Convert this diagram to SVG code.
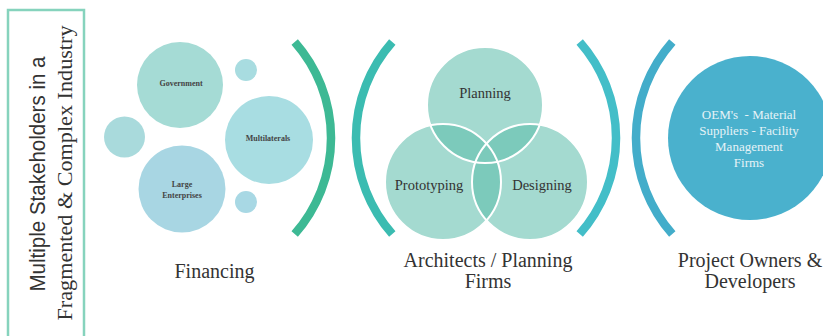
<svg xmlns="http://www.w3.org/2000/svg" width="823" height="336" viewBox="0 0 823 336">
<style>
.serif{font-family:"Liberation Serif","DejaVu Serif",serif;fill:#333}
.sans{font-family:"Liberation Sans","DejaVu Sans",sans-serif;fill:#333}
.lbl{font-size:20px;text-anchor:middle}
.small{font-size:8px;text-anchor:middle;font-weight:bold;fill:#444}
.venn{font-size:14.5px;text-anchor:middle}
.br{fill:none;stroke-width:8.5}
.vc{stroke:#fff;stroke-width:2;fill:none}
</style>
<defs>
<clipPath id="cPlan"><circle cx="485" cy="105" r="58"/></clipPath>
<clipPath id="cProt"><circle cx="443" cy="182" r="58"/></clipPath>
<clipPath id="cDes"><circle cx="530" cy="182" r="58"/></clipPath>
</defs>
<rect width="823" height="336" fill="#fff"/>

<g id="title">
<rect x="8" y="10" width="76" height="340" fill="none" stroke="#86d3bd" stroke-width="2.5"/>
<text class="sans" font-size="22" text-anchor="middle" transform="translate(45,174) rotate(-90)" textLength="235" lengthAdjust="spacingAndGlyphs">Multiple Stakeholders in a</text>
<text class="serif" font-size="22" text-anchor="middle" transform="translate(72,173) rotate(-90)" textLength="295" lengthAdjust="spacingAndGlyphs">Fragmented &amp; Complex Industry</text>
</g>

<g id="financing">
<circle cx="180" cy="85" r="43" fill="#a5dbd5"/>
<circle cx="246" cy="70" r="11" fill="#a8dce0"/>
<circle cx="124.5" cy="137" r="20.5" fill="#a9dadc"/>
<circle cx="269" cy="140" r="44" fill="#a8dde2"/>
<circle cx="182" cy="189" r="43.5" fill="#a8d6e3"/>
<circle cx="246" cy="202" r="11" fill="#a8d8e4"/>
<text class="serif small" x="181" y="86">Government</text>
<text class="serif small" x="268" y="141">Multilaterals</text>
<text class="serif small" x="182" y="187">Large</text>
<text class="serif small" x="182" y="198">Enterprises</text>
<text class="serif lbl" x="214.5" y="278">Financing</text>
</g>

<g id="architects">
<circle cx="485" cy="105" r="58" fill="#a4dad0"/>
<circle cx="443" cy="182" r="58" fill="#a4dad0"/>
<circle cx="530" cy="182" r="58" fill="#a4dad0"/>
<g fill="#7ccabb">
<circle cx="443" cy="182" r="58" clip-path="url(#cPlan)"/>
<circle cx="530" cy="182" r="58" clip-path="url(#cPlan)"/>
<circle cx="530" cy="182" r="58" clip-path="url(#cProt)"/>
</g>
<circle class="vc" cx="485" cy="105" r="58"/>
<circle class="vc" cx="443" cy="182" r="58"/>
<circle class="vc" cx="530" cy="182" r="58"/>
<text class="serif venn" x="485" y="98">Planning</text>
<text class="serif venn" x="429" y="190">Prototyping</text>
<text class="serif venn" x="542" y="190">Designing</text>
<text class="serif lbl" x="488" y="267">Architects / Planning</text>
<text class="serif lbl" x="488" y="288">Firms</text>
</g>

<g id="owners">
<circle cx="750" cy="138" r="82" fill="#4ab1cd"/>
<g class="serif" font-size="13" text-anchor="middle" style="fill:#e6f3f7">
<text x="749" y="119" xml:space="preserve">OEM's  - Material</text>
<text x="749" y="135">Suppliers - Facility</text>
<text x="749" y="151">Management</text>
<text x="749" y="167">Firms</text>
</g>
<text class="serif lbl" x="750" y="267">Project Owners &amp;</text>
<text class="serif lbl" x="750" y="288">Developers</text>
</g>

<g id="connectors">
<path class="br" stroke="#3db994" d="M294.7 42 A145 145 0 0 1 294.7 234"/>
<path class="br" stroke="#3bbcb1" d="M392.3 42 A145 145 0 0 0 392.3 234"/>
<path class="br" stroke="#43bec8" d="M579.7 42 A145 145 0 0 1 579.7 234"/>
<path class="br" stroke="#43adca" d="M672.3 42 A145 145 0 0 0 672.3 234"/>
</g>
</svg>
